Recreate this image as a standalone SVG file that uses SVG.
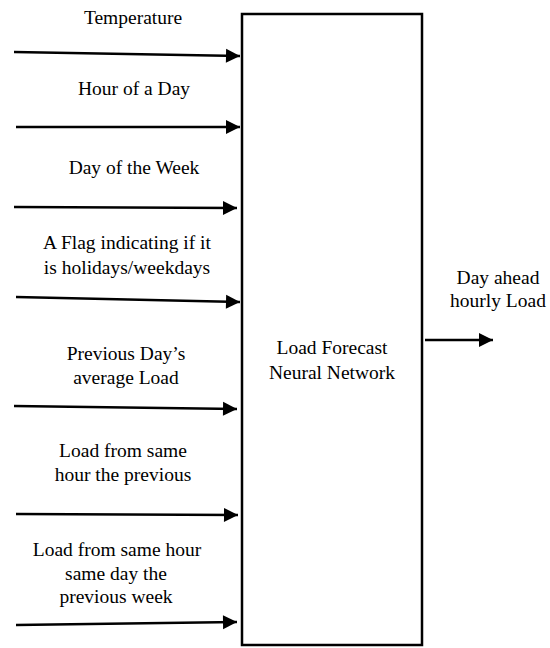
<svg xmlns="http://www.w3.org/2000/svg" width="550" height="648" viewBox="0 0 550 648">
<style>
text{font-family:"Liberation Serif","Times New Roman",serif;font-size:19.5px;fill:#000;text-anchor:middle;dominant-baseline:central}
.c{stroke:#000;stroke-width:2.5;fill:none}
</style>
<defs>
<marker id="ah" markerUnits="userSpaceOnUse" markerWidth="16" markerHeight="16" viewBox="0 0 16 16" refX="15" refY="8" orient="auto">
<path d="M1,1 L15,8 L1,15 Z" fill="#000"/>
</marker>
</defs>
<rect width="550" height="648" fill="#fff"/>
<g id="nn">
<rect x="242" y="14" width="180" height="631" fill="#fff" stroke="#000" stroke-width="2.5"/>
<text x="332" y="347">Load Forecast</text>
<text x="332" y="372">Neural Network</text>
</g>
<g id="in-temp"><text x="133" y="17">Temperature</text></g>
<g id="in-hour"><text x="134" y="88">Hour of a Day</text></g>
<g id="in-dow"><text x="134" y="167">Day of the Week</text></g>
<g id="in-flag"><text x="127" y="242">A Flag indicating if it</text><text x="127" y="267">is holidays/weekdays</text></g>
<g id="in-prev"><text x="126" y="353">Previous Day’s</text><text x="126" y="377">average Load</text></g>
<g id="in-hprev"><text x="123" y="450">Load from same</text><text x="123" y="474">hour the previous</text></g>
<g id="in-week"><text x="117" y="549">Load from same hour</text><text x="116" y="573">same day the</text><text x="116" y="596">previous week</text></g>
<g id="out"><text x="498" y="277">Day ahead</text><text x="498" y="300">hourly Load</text></g>
<g id="connectors">
<line class="c" x1="14" y1="52" x2="240" y2="56" marker-end="url(#ah)"/>
<line class="c" x1="16" y1="127" x2="240" y2="127" marker-end="url(#ah)"/>
<line class="c" x1="14" y1="207" x2="237" y2="208" marker-end="url(#ah)"/>
<line class="c" x1="16" y1="297" x2="240" y2="302" marker-end="url(#ah)"/>
<line class="c" x1="14" y1="406" x2="237" y2="409" marker-end="url(#ah)"/>
<line class="c" x1="16" y1="514" x2="238" y2="515" marker-end="url(#ah)"/>
<line class="c" x1="16" y1="625" x2="237" y2="622" marker-end="url(#ah)"/>
<line class="c" x1="425" y1="340" x2="493" y2="340" marker-end="url(#ah)"/>
</g>
</svg>
